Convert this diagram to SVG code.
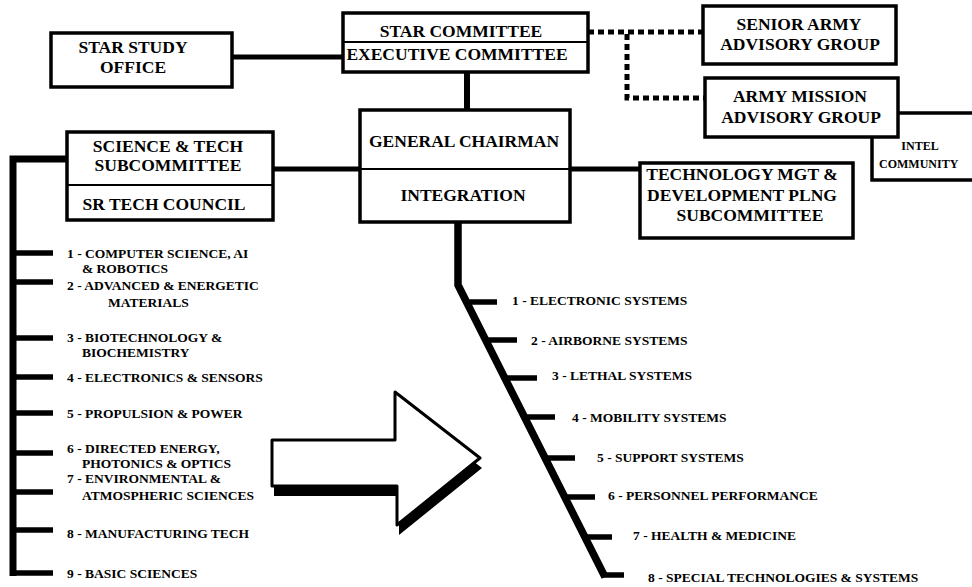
<svg xmlns="http://www.w3.org/2000/svg" width="972" height="587" viewBox="0 0 972 587">
<defs>
<style>
.box{fill:#fff;stroke:#000;stroke-width:3.5}
.div{stroke:#000;stroke-width:2}
.t{font-family:"Liberation Serif","Times New Roman",serif;font-weight:bold;fill:#000}
.bt{font-size:17.5px;text-anchor:middle}
.lt{font-size:13.5px}
.ln{stroke:#000;fill:none}
.dot{stroke:#000;stroke-width:5;stroke-dasharray:6 4;fill:none}
</style>
</defs>
<rect width="972" height="587" fill="#fff"/>
<g id="connectors">
<line class="ln" x1="232" y1="57" x2="343" y2="57" stroke-width="5"/>
<line class="ln" x1="467" y1="72" x2="467" y2="110" stroke-width="6"/>
<line class="ln" x1="273" y1="169" x2="640" y2="169" stroke-width="5"/>
<path class="dot" d="M588,32 H703"/>
<path class="dot" d="M627,34 V98 H705"/>
<line class="ln" x1="898" y1="113" x2="972" y2="113" stroke-width="3.5"/>
<path class="ln" d="M13,576 V159 H67" stroke-width="7"/>
<g stroke="#000" stroke-width="5.5">
<line x1="13" y1="253" x2="53" y2="253"/>
<line x1="13" y1="282" x2="53" y2="282"/>
<line x1="13" y1="338" x2="53" y2="338"/>
<line x1="13" y1="377" x2="53" y2="377"/>
<line x1="13" y1="413" x2="53" y2="413"/>
<line x1="13" y1="453" x2="53" y2="453"/>
<line x1="13" y1="492" x2="53" y2="492"/>
<line x1="13" y1="530" x2="53" y2="530"/>
<line x1="10" y1="573" x2="53" y2="573"/>
</g>
<path class="ln" d="M458,222 V285 L605,577" stroke-width="7.5"/>
<g stroke="#000" stroke-width="5.5">
<line x1="466" y1="302" x2="497" y2="302"/>
<line x1="485" y1="340" x2="517" y2="340"/>
<line x1="504" y1="378" x2="537" y2="378"/>
<line x1="524" y1="417" x2="555" y2="417"/>
<line x1="545" y1="458" x2="575" y2="458"/>
<line x1="564" y1="497" x2="595" y2="497"/>
<line x1="584" y1="537" x2="612" y2="537"/>
<line x1="602" y1="575" x2="624" y2="575"/>
</g>
</g>
<g id="star-study-office">
<rect class="box" x="51" y="33" width="181" height="54"/>
<text class="t bt" x="133" y="53">STAR STUDY</text>
<text class="t bt" x="133" y="73">OFFICE</text>
</g>
<g id="star-committee">
<rect class="box" x="343" y="13" width="245" height="59"/>
<line class="div" x1="343" y1="42" x2="588" y2="42"/>
<text class="t bt" x="461" y="37">STAR COMMITTEE</text>
<text class="t bt" x="457" y="60">EXECUTIVE COMMITTEE</text>
</g>
<g id="senior-army">
<rect class="box" x="703" y="6" width="193" height="58"/>
<text class="t bt" x="799" y="30">SENIOR ARMY</text>
<text class="t bt" x="800" y="50">ADVISORY GROUP</text>
</g>
<g id="army-mission">
<rect class="box" x="705" y="78" width="193" height="59"/>
<text class="t bt" x="800" y="102">ARMY MISSION</text>
<text class="t bt" x="801" y="123">ADVISORY GROUP</text>
</g>
<g id="intel">
<path class="ln" d="M872,137 V180 H972" stroke-width="3.5"/>
<text class="t" x="920" y="150" font-size="12" text-anchor="middle">INTEL</text>
<text class="t" x="879" y="168" font-size="12">COMMUNITY</text>
</g>
<g id="general-chairman">
<rect class="box" x="360" y="110" width="210" height="112"/>
<line class="div" x1="360" y1="169" x2="570" y2="169"/>
<text class="t bt" x="464" y="147">GENERAL CHAIRMAN</text>
<text class="t bt" x="463" y="201">INTEGRATION</text>
</g>
<g id="science-tech">
<rect class="box" x="67" y="132" width="206" height="88"/>
<line class="div" x1="67" y1="185" x2="273" y2="185"/>
<text class="t bt" x="168" y="152">SCIENCE &amp; TECH</text>
<text class="t bt" x="168" y="171">SUBCOMMITTEE</text>
<text class="t bt" x="164" y="210">SR TECH COUNCIL</text>
</g>
<g id="tech-mgt">
<rect class="box" x="640" y="163" width="213" height="75"/>
<text class="t bt" x="742" y="180">TECHNOLOGY MGT &amp;</text>
<text class="t bt" x="742" y="201">DEVELOPMENT PLNG</text>
<text class="t bt" x="750" y="221">SUBCOMMITTEE</text>
</g>
<g id="left-list" class="t lt">
<text x="67" y="258">1 - COMPUTER SCIENCE, AI</text>
<text x="82" y="273">&amp; ROBOTICS</text>
<text x="67" y="290">2 - ADVANCED &amp; ENERGETIC</text>
<text x="108" y="307">MATERIALS</text>
<text x="67" y="342">3 - BIOTECHNOLOGY &amp;</text>
<text x="82" y="357">BIOCHEMISTRY</text>
<text x="67" y="382">4 - ELECTRONICS &amp; SENSORS</text>
<text x="67" y="418">5 - PROPULSION &amp; POWER</text>
<text x="67" y="453">6 - DIRECTED ENERGY,</text>
<text x="82" y="468">PHOTONICS &amp; OPTICS</text>
<text x="67" y="483">7 - ENVIRONMENTAL &amp;</text>
<text x="82" y="500">ATMOSPHERIC SCIENCES</text>
<text x="67" y="538">8 - MANUFACTURING TECH</text>
<text x="67" y="578">9 - BASIC SCIENCES</text>
</g>
<g id="right-list" class="t lt">
<text x="512" y="305">1 - ELECTRONIC SYSTEMS</text>
<text x="531" y="345">2 - AIRBORNE SYSTEMS</text>
<text x="552" y="380">3 - LETHAL SYSTEMS</text>
<text x="572" y="422">4 - MOBILITY SYSTEMS</text>
<text x="597" y="462">5 - SUPPORT SYSTEMS</text>
<text x="608" y="500">6 - PERSONNEL PERFORMANCE</text>
<text x="633" y="540">7 - HEALTH &amp; MEDICINE</text>
<text x="648" y="582">8 - SPECIAL TECHNOLOGIES &amp; SYSTEMS</text>
</g>
<g id="arrow">
<path d="M272,440 H395 V392 L480,458 L397,525 V486 H272 Z" fill="#000" transform="translate(2,10)"/>
<path d="M272,440 H395 V392 L480,458 L397,525 V486 H272 Z" fill="#fff" stroke="#000" stroke-width="3" stroke-linejoin="round"/>
</g>
</svg>
